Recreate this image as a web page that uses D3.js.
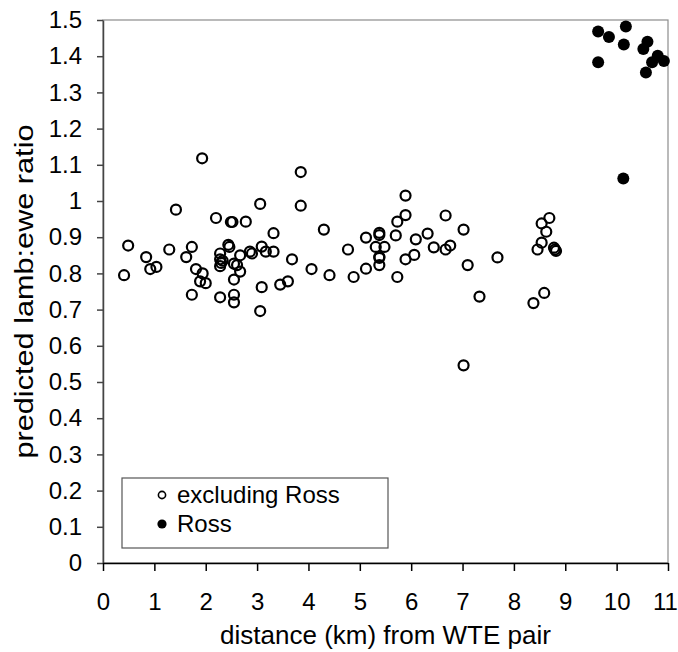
<!DOCTYPE html>
<html>
<head>
<meta charset="utf-8">
<script src="https://cdn.jsdelivr.net/npm/d3@7"></script>
<style>
  body { margin: 0; background: #fff; }
  svg { display: block; font-family: Arial, "Liberation Sans", sans-serif; }
</style>
</head>
<body>
<div id="chart"></div>
<script>
// [distance km, predicted lamb:ewe ratio]
const excludingRoss = [
  [0.41, 0.795], [0.49, 0.877], [0.84, 0.845], [0.92, 0.812], [1.04, 0.818],
  [1.29, 0.866], [1.42, 0.976], [1.62, 0.845], [1.73, 0.873], [1.73, 0.741],
  [1.81, 0.812], [1.89, 0.778], [1.93, 1.118], [1.94, 0.8], [2.0, 0.773],
  [2.2, 0.953], [2.28, 0.855], [2.28, 0.839], [2.3, 0.829], [2.28, 0.82],
  [2.33, 0.835], [2.28, 0.734], [2.44, 0.879], [2.46, 0.873], [2.49, 0.942],
  [2.52, 0.942], [2.55, 0.827], [2.55, 0.783], [2.55, 0.741], [2.55, 0.72],
  [2.61, 0.823], [2.67, 0.85], [2.67, 0.805], [2.78, 0.943], [2.86, 0.86],
  [2.9, 0.855], [3.06, 0.992], [3.06, 0.696], [3.09, 0.874], [3.09, 0.762],
  [3.17, 0.86], [3.32, 0.911], [3.32, 0.86], [3.45, 0.769], [3.6, 0.778],
  [3.68, 0.839], [3.85, 1.08], [3.85, 0.987], [4.06, 0.812], [4.3, 0.921],
  [4.41, 0.795], [4.77, 0.866], [4.88, 0.79], [5.12, 0.899], [5.12, 0.813],
  [5.31, 0.873], [5.38, 0.912], [5.38, 0.906], [5.38, 0.846], [5.38, 0.843],
  [5.38, 0.823], [5.48, 0.873], [5.7, 0.905], [5.73, 0.943], [5.73, 0.79],
  [5.89, 1.015], [5.89, 0.961], [5.89, 0.839], [6.06, 0.851], [6.09, 0.894],
  [6.32, 0.91], [6.44, 0.872], [6.67, 0.96], [6.67, 0.866], [6.76, 0.877],
  [7.02, 0.921], [7.02, 0.546], [7.1, 0.823], [7.33, 0.736], [7.68, 0.844],
  [8.38, 0.718], [8.46, 0.866], [8.54, 0.938], [8.54, 0.885], [8.59, 0.746],
  [8.63, 0.915], [8.69, 0.953], [8.78, 0.871], [8.8, 0.866], [8.82, 0.862]
];

const ross = [
  [9.64, 1.468], [9.64, 1.383], [9.85, 1.453], [10.18, 1.482], [10.14, 1.432],
  [10.13, 1.062], [10.52, 1.42], [10.6, 1.44], [10.57, 1.355], [10.69, 1.383],
  [10.8, 1.401], [10.92, 1.387]
];

const xTicks = [0, 1, 2, 3, 4, 5, 6, 7, 8, 9, 10, 11];
const yTicks = [0, 0.1, 0.2, 0.3, 0.4, 0.5, 0.6, 0.7, 0.8, 0.9, 1, 1.1, 1.2, 1.3, 1.4, 1.5];
const legendLabels = ['excluding Ross', 'Ross'];
const xTitle = 'distance (km) from WTE pair';
const yTitle = 'predicted lamb:ewe ratio';

const width = 678;
const height = 652;
const margin = { top: 20, right: 10, bottom: 89, left: 103 };

const x = d3.scaleLinear()
  .domain([0, 11])
  .range([margin.left, width - margin.right]);

const y = d3.scaleLinear()
  .domain([0, 1.5])
  .range([height - margin.bottom, margin.top]);

const svg = d3.select('#chart')
  .append('svg')
  .attr('width', width)
  .attr('height', height);

// plot frame
svg.append('rect')
  .attr('x', x(0))
  .attr('y', y(1.5))
  .attr('width', x(11) - x(0))
  .attr('height', y(0) - y(1.5))
  .attr('fill', 'none')
  .attr('stroke', '#8c8c8c')
  .attr('stroke-width', 1.2);

const xAxis = d3.axisBottom(x)
  .tickValues(xTicks)
  .tickSize(8)
  .tickPadding(22)
  .tickSizeOuter(0)
  .tickFormat(d3.format('d'));

const yAxis = d3.axisLeft(y)
  .tickValues(yTicks)
  .tickSize(6)
  .tickPadding(15)
  .tickSizeOuter(0)
  .tickFormat(d => (d === 0 || d === 1) ? String(d) : d.toFixed(1));

svg.append('g')
  .attr('class', 'yaxis')
  .attr('transform', `translate(${margin.left},0)`)
  .call(yAxis);

svg.append('g')
  .attr('class', 'xaxis')
  .attr('transform', `translate(0,${height - margin.bottom})`)
  .call(xAxis);

svg.selectAll('.yaxis path, .yaxis line')
  .attr('stroke', '#444')
  .attr('stroke-width', 1.5);
svg.selectAll('.xaxis path, .xaxis line')
  .attr('stroke', '#000')
  .attr('stroke-width', 1.5);
svg.selectAll('.xaxis text, .yaxis text')
  .attr('fill', '#000')
  .style('font-size', '24px')
  .style('font-family', 'Arial, "Liberation Sans", sans-serif');

// last label sits right on the edge, like the original
svg.selectAll('.xaxis .tick text')
  .filter(d => d === 11)
  .attr('dx', -3);

// points
svg.append('g')
  .selectAll('circle')
  .data(excludingRoss)
  .enter()
  .append('circle')
  .attr('cx', d => x(d[0]))
  .attr('cy', d => y(d[1]))
  .attr('r', 5)
  .attr('fill', 'none')
  .attr('stroke', '#000')
  .attr('stroke-width', 2.2);

svg.append('g')
  .selectAll('circle')
  .data(ross)
  .enter()
  .append('circle')
  .attr('cx', d => x(d[0]))
  .attr('cy', d => y(d[1]))
  .attr('r', 6)
  .attr('fill', '#000');

// axis titles
svg.append('text')
  .attr('x', (x(0) + x(11)) / 2)
  .attr('y', 644)
  .attr('text-anchor', 'middle')
  .style('font-size', '26px')
  .text(xTitle);

svg.append('text')
  .attr('transform', `translate(33,${(y(0) + y(1.5)) / 2}) rotate(-90)`)
  .attr('text-anchor', 'middle')
  .attr('textLength', 334)
  .attr('lengthAdjust', 'spacingAndGlyphs')
  .style('font-size', '26px')
  .text(yTitle);

// legend
const legend = svg.append('g');

legend.append('rect')
  .attr('x', 122)
  .attr('y', 478)
  .attr('width', 266)
  .attr('height', 70)
  .attr('fill', '#fff')
  .attr('stroke', '#555')
  .attr('stroke-width', 1.2);

const items = legend.selectAll('g.item')
  .data(legendLabels)
  .enter()
  .append('g')
  .attr('class', 'item')
  .attr('transform', (d, i) => `translate(0,${495 + i * 29})`);

items.append('circle')
  .attr('cx', 162)
  .attr('cy', 0)
  .attr('r', (d, i) => i === 0 ? 3.6 : 4.6)
  .attr('fill', (d, i) => i === 0 ? 'none' : '#000')
  .attr('stroke', '#000')
  .attr('stroke-width', (d, i) => i === 0 ? 1.6 : 0);

items.append('text')
  .attr('x', 177)
  .attr('y', 8)
  .style('font-size', '24px')
  .text(d => d);
</script>
</body>
</html>
